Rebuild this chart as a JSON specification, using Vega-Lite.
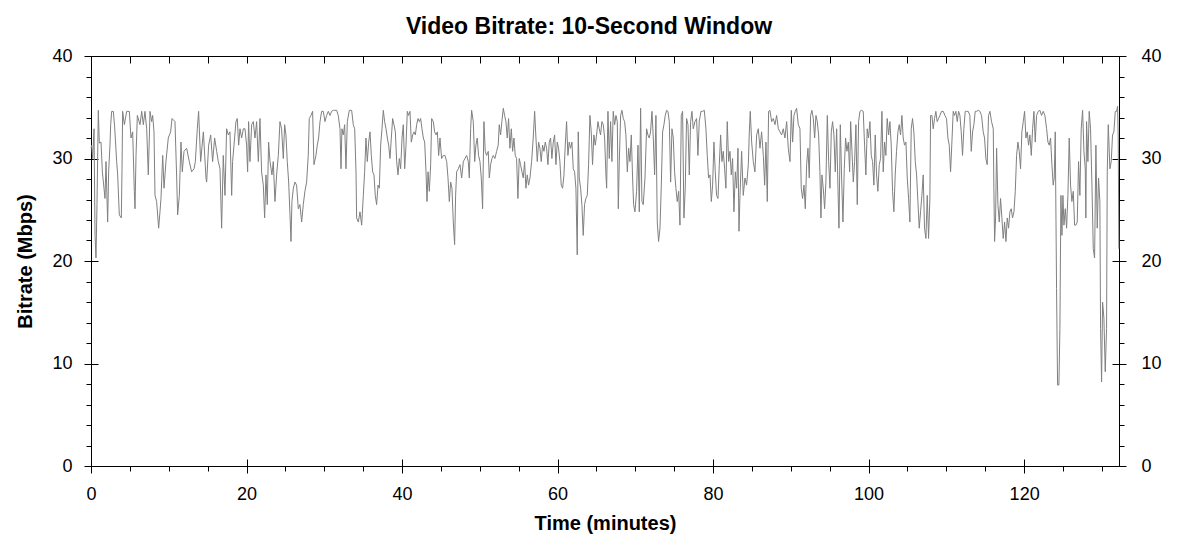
{
  "$schema": "https://vega.github.io/schema/vega-lite/v6.json",
  "autosize": "none",
  "width": 1028,
  "height": 410,
  "padding": {"left": 91, "top": 56, "right": 59, "bottom": 86},
  "background": "white",
  "title": {"text": "Video Bitrate: 10-Second Window", "dx": -16, "offset": 8},
  "config": {
    "view": {"stroke": null},
    "title": {"font": "Liberation Sans", "fontSize": 23, "fontWeight": "bold", "color": "black", "anchor": "middle"},
    "axis": {
      "grid": false,
      "domainColor": "black",
      "tickColor": "black",
      "labelColor": "black",
      "titleColor": "black",
      "labelFont": "Liberation Sans",
      "titleFont": "Liberation Sans",
      "labelFontSize": 18,
      "titleFontSize": 20,
      "titleFontWeight": "bold",
      "labelFlush": false,
      "labelOverlap": false,
      "domainWidth": 1,
      "tickWidth": 1
    }
  },
  "datasets": {
    "br": [
      {"t": 0, "v": 31.0}, {"t": 0.09, "v": 31.3}, {"t": 0.22, "v": 30.0}, {"t": 0.39, "v": 32.9}, {"t": 0.52, "v": 22.5},
      {"t": 0.64, "v": 20.3}, {"t": 0.77, "v": 25.5}, {"t": 0.94, "v": 34.7}, {"t": 1.07, "v": 31.5}, {"t": 1.29, "v": 31.6},
      {"t": 1.46, "v": 28.7}, {"t": 1.67, "v": 27.1}, {"t": 1.80, "v": 26.1}, {"t": 1.93, "v": 29.7}, {"t": 2.14, "v": 23.8},
      {"t": 2.27, "v": 28.7}, {"t": 2.44, "v": 31.3}, {"t": 2.53, "v": 33.3}, {"t": 2.66, "v": 34.6}, {"t": 2.87, "v": 34.6},
      {"t": 3.04, "v": 33.1}, {"t": 3.30, "v": 29.7}, {"t": 3.43, "v": 28.4}, {"t": 3.64, "v": 24.5}, {"t": 3.90, "v": 24.2},
      {"t": 3.99, "v": 29.0}, {"t": 4.07, "v": 34.6}, {"t": 4.29, "v": 33.3}, {"t": 4.59, "v": 34.6}, {"t": 4.93, "v": 34.6},
      {"t": 5.14, "v": 32.0}, {"t": 5.36, "v": 32.6}, {"t": 5.57, "v": 26.8}, {"t": 5.66, "v": 25.1}, {"t": 5.79, "v": 30.3},
      {"t": 5.96, "v": 34.2}, {"t": 6.30, "v": 33.3}, {"t": 6.52, "v": 34.6}, {"t": 6.73, "v": 33.3}, {"t": 6.94, "v": 34.6},
      {"t": 7.16, "v": 32.9}, {"t": 7.37, "v": 28.4}, {"t": 7.59, "v": 34.6}, {"t": 7.80, "v": 33.6}, {"t": 7.93, "v": 34.2},
      {"t": 8.10, "v": 32.6}, {"t": 8.23, "v": 26.4}, {"t": 8.44, "v": 25.8}, {"t": 8.70, "v": 23.2}, {"t": 8.87, "v": 24.8},
      {"t": 9.00, "v": 26.1}, {"t": 9.22, "v": 30.3}, {"t": 9.39, "v": 27.1}, {"t": 9.64, "v": 29.7}, {"t": 9.94, "v": 32.0},
      {"t": 10.24, "v": 32.6}, {"t": 10.42, "v": 33.9}, {"t": 10.80, "v": 33.6}, {"t": 11.02, "v": 28.1}, {"t": 11.14, "v": 24.5},
      {"t": 11.36, "v": 26.4}, {"t": 11.57, "v": 31.6}, {"t": 11.74, "v": 28.7}, {"t": 11.96, "v": 30.7}, {"t": 12.30, "v": 31.0},
      {"t": 12.64, "v": 29.7}, {"t": 12.94, "v": 28.7}, {"t": 13.25, "v": 29.0}, {"t": 13.42, "v": 29.7}, {"t": 13.67, "v": 32.9},
      {"t": 13.84, "v": 34.6}, {"t": 14.10, "v": 29.7}, {"t": 14.45, "v": 32.6}, {"t": 14.79, "v": 28.1}, {"t": 14.87, "v": 27.7},
      {"t": 15.13, "v": 31.3}, {"t": 15.39, "v": 32.3}, {"t": 15.64, "v": 29.7}, {"t": 15.90, "v": 32.0},
      {"t": 16.16, "v": 30.7}, {"t": 16.37, "v": 29.7}, {"t": 16.59, "v": 29.0}, {"t": 16.80, "v": 23.2}, {"t": 17.01, "v": 30.3},
      {"t": 17.23, "v": 26.4}, {"t": 17.44, "v": 32.9}, {"t": 17.66, "v": 32.3}, {"t": 17.87, "v": 32.6}, {"t": 18.09, "v": 26.4},
      {"t": 18.21, "v": 29.7}, {"t": 18.39, "v": 31.3}, {"t": 18.64, "v": 33.6}, {"t": 18.81, "v": 33.9}, {"t": 18.99, "v": 31.3},
      {"t": 19.16, "v": 32.9}, {"t": 19.37, "v": 32.0}, {"t": 19.59, "v": 32.9}, {"t": 19.80, "v": 32.9}, {"t": 20.01, "v": 31.3},
      {"t": 20.14, "v": 28.7}, {"t": 20.27, "v": 33.6}, {"t": 20.44, "v": 29.7}, {"t": 20.66, "v": 33.3}, {"t": 20.87, "v": 33.6},
      {"t": 21.09, "v": 32.0}, {"t": 21.30, "v": 33.6}, {"t": 21.52, "v": 29.7}, {"t": 21.73, "v": 33.9}, {"t": 21.94, "v": 28.7},
      {"t": 22.16, "v": 27.4}, {"t": 22.33, "v": 24.2}, {"t": 22.50, "v": 28.4}, {"t": 22.67, "v": 25.5}, {"t": 22.84, "v": 31.6},
      {"t": 23.02, "v": 29.7}, {"t": 23.27, "v": 28.4}, {"t": 23.44, "v": 29.7}, {"t": 23.66, "v": 25.8}, {"t": 23.87, "v": 28.4},
      {"t": 24.09, "v": 30.3}, {"t": 24.30, "v": 33.6}, {"t": 24.51, "v": 32.9}, {"t": 24.73, "v": 30.0}, {"t": 24.90, "v": 33.3},
      {"t": 25.07, "v": 32.3}, {"t": 25.24, "v": 29.7}, {"t": 25.42, "v": 27.7}, {"t": 25.59, "v": 24.5}, {"t": 25.72, "v": 21.9},
      {"t": 25.84, "v": 25.8}, {"t": 26.02, "v": 27.1}, {"t": 26.23, "v": 27.7}, {"t": 26.44, "v": 27.4}, {"t": 26.66, "v": 25.1},
      {"t": 26.87, "v": 25.5}, {"t": 27.09, "v": 23.8}, {"t": 27.30, "v": 25.5}, {"t": 27.51, "v": 26.8}, {"t": 27.73, "v": 27.7},
      {"t": 27.94, "v": 30.3}, {"t": 28.07, "v": 33.9}, {"t": 28.29, "v": 34.2}, {"t": 28.50, "v": 34.6}, {"t": 28.67, "v": 29.4},
      {"t": 28.93, "v": 30.3}, {"t": 29.10, "v": 31.3}, {"t": 29.27, "v": 32.0}, {"t": 29.45, "v": 33.6}, {"t": 29.66, "v": 34.6},
      {"t": 29.87, "v": 34.6}, {"t": 30.09, "v": 33.6}, {"t": 30.30, "v": 34.2}, {"t": 30.52, "v": 34.6}, {"t": 30.73, "v": 34.2},
      {"t": 30.94, "v": 34.6}, {"t": 31.16, "v": 34.7}, {"t": 31.37, "v": 34.7}, {"t": 31.59, "v": 34.7}, {"t": 31.80, "v": 34.2},
      {"t": 32.02, "v": 32.9}, {"t": 32.15, "v": 29.0}, {"t": 32.27, "v": 32.9}, {"t": 32.44, "v": 32.3}, {"t": 32.62, "v": 33.3},
      {"t": 32.79, "v": 29.0}, {"t": 32.96, "v": 33.6}, {"t": 33.22, "v": 34.7}, {"t": 33.52, "v": 34.7}, {"t": 33.73, "v": 33.3},
      {"t": 33.91, "v": 32.9}, {"t": 34.08, "v": 28.7}, {"t": 34.16, "v": 24.2}, {"t": 34.38, "v": 23.8}, {"t": 34.59, "v": 24.8},
      {"t": 34.81, "v": 23.5}, {"t": 35.02, "v": 26.4}, {"t": 35.19, "v": 28.7}, {"t": 35.36, "v": 32.0}, {"t": 35.53, "v": 29.7},
      {"t": 35.71, "v": 31.6}, {"t": 35.88, "v": 32.6}, {"t": 36.05, "v": 30.3}, {"t": 36.22, "v": 28.7}, {"t": 36.39, "v": 28.4},
      {"t": 36.56, "v": 26.4}, {"t": 36.73, "v": 25.5}, {"t": 36.91, "v": 27.4}, {"t": 37.08, "v": 27.1}, {"t": 37.25, "v": 31.3},
      {"t": 37.42, "v": 32.9}, {"t": 37.59, "v": 34.7}, {"t": 37.76, "v": 33.6}, {"t": 37.94, "v": 32.9}, {"t": 38.11, "v": 32.0},
      {"t": 38.28, "v": 31.3}, {"t": 38.45, "v": 30.0}, {"t": 38.62, "v": 32.0}, {"t": 38.79, "v": 33.9}, {"t": 38.96, "v": 33.3},
      {"t": 39.14, "v": 32.6}, {"t": 39.31, "v": 29.7}, {"t": 39.48, "v": 28.4}, {"t": 39.65, "v": 30.0}, {"t": 39.82, "v": 29.0},
      {"t": 40.00, "v": 32.0}, {"t": 40.16, "v": 33.3}, {"t": 40.34, "v": 29.0}, {"t": 40.51, "v": 31.3}, {"t": 40.68, "v": 34.6},
      {"t": 40.85, "v": 34.2}, {"t": 41.02, "v": 34.6}, {"t": 41.19, "v": 31.6}, {"t": 41.37, "v": 32.3}, {"t": 41.54, "v": 32.6},
      {"t": 41.71, "v": 32.3}, {"t": 41.88, "v": 33.3}, {"t": 42.05, "v": 33.9}, {"t": 42.22, "v": 33.6}, {"t": 42.39, "v": 33.9},
      {"t": 42.56, "v": 32.9}, {"t": 42.74, "v": 32.0}, {"t": 42.91, "v": 31.6}, {"t": 43.08, "v": 28.7}, {"t": 43.21, "v": 25.8},
      {"t": 43.34, "v": 28.7}, {"t": 43.51, "v": 26.8}, {"t": 43.68, "v": 29.4}, {"t": 43.81, "v": 33.9}, {"t": 44.02, "v": 33.6},
      {"t": 44.19, "v": 32.6}, {"t": 44.37, "v": 32.3}, {"t": 44.54, "v": 32.6}, {"t": 44.71, "v": 30.3}, {"t": 44.88, "v": 32.0},
      {"t": 45.09, "v": 30.0}, {"t": 45.31, "v": 30.3}, {"t": 45.52, "v": 30.3}, {"t": 45.74, "v": 29.7}, {"t": 45.91, "v": 28.1},
      {"t": 46.08, "v": 25.8}, {"t": 46.25, "v": 27.7}, {"t": 46.42, "v": 27.1}, {"t": 46.59, "v": 23.8}, {"t": 46.76, "v": 21.6},
      {"t": 46.89, "v": 26.4}, {"t": 47.02, "v": 28.7}, {"t": 47.24, "v": 29.0}, {"t": 47.45, "v": 29.4}, {"t": 47.67, "v": 28.1},
      {"t": 47.88, "v": 29.7}, {"t": 48.09, "v": 30.0}, {"t": 48.31, "v": 30.3}, {"t": 48.52, "v": 29.7}, {"t": 48.65, "v": 28.1},
      {"t": 48.82, "v": 32.9}, {"t": 48.95, "v": 34.7}, {"t": 49.16, "v": 33.6}, {"t": 49.34, "v": 29.7},
      {"t": 49.50, "v": 31.3}, {"t": 49.67, "v": 32.0}, {"t": 49.84, "v": 30.3}, {"t": 50.02, "v": 29.7}, {"t": 50.19, "v": 28.1},
      {"t": 50.36, "v": 25.1}, {"t": 50.53, "v": 33.6}, {"t": 50.70, "v": 30.7}, {"t": 50.87, "v": 30.3}, {"t": 51.09, "v": 30.7},
      {"t": 51.22, "v": 28.1}, {"t": 51.39, "v": 29.4}, {"t": 51.56, "v": 30.0}, {"t": 51.73, "v": 30.3}, {"t": 51.94, "v": 30.0},
      {"t": 52.16, "v": 30.7}, {"t": 52.37, "v": 31.3}, {"t": 52.50, "v": 33.3}, {"t": 52.67, "v": 32.3}, {"t": 52.84, "v": 33.6},
      {"t": 53.02, "v": 34.9}, {"t": 53.19, "v": 34.2}, {"t": 53.36, "v": 33.6}, {"t": 53.53, "v": 32.0}, {"t": 53.70, "v": 33.9},
      {"t": 53.87, "v": 31.0}, {"t": 54.05, "v": 32.9}, {"t": 54.22, "v": 30.7}, {"t": 54.39, "v": 32.0}, {"t": 54.56, "v": 30.3},
      {"t": 54.73, "v": 30.0}, {"t": 54.90, "v": 26.1}, {"t": 55.07, "v": 30.0}, {"t": 55.24, "v": 29.4}, {"t": 55.42, "v": 28.7},
      {"t": 55.59, "v": 28.1}, {"t": 55.76, "v": 29.7}, {"t": 55.93, "v": 27.1}, {"t": 56.10, "v": 28.4}, {"t": 56.27, "v": 27.4},
      {"t": 56.45, "v": 28.1}, {"t": 56.66, "v": 29.7}, {"t": 56.87, "v": 32.0}, {"t": 57.05, "v": 34.6}, {"t": 57.22, "v": 32.0},
      {"t": 57.39, "v": 29.7}, {"t": 57.56, "v": 31.6}, {"t": 57.73, "v": 31.0}, {"t": 57.90, "v": 29.7}, {"t": 58.07, "v": 31.3},
      {"t": 58.25, "v": 30.7}, {"t": 58.42, "v": 31.6}, {"t": 58.59, "v": 31.0}, {"t": 58.76, "v": 29.4}, {"t": 58.93, "v": 31.6},
      {"t": 59.10, "v": 32.0}, {"t": 59.27, "v": 30.0}, {"t": 59.45, "v": 31.6}, {"t": 59.62, "v": 32.3}, {"t": 59.79, "v": 29.4},
      {"t": 59.96, "v": 31.6}, {"t": 60.13, "v": 31.0}, {"t": 60.30, "v": 29.7}, {"t": 60.47, "v": 27.4}, {"t": 60.65, "v": 27.1},
      {"t": 60.82, "v": 28.4}, {"t": 60.99, "v": 31.3}, {"t": 61.16, "v": 33.6}, {"t": 61.33, "v": 30.3}, {"t": 61.50, "v": 31.6},
      {"t": 61.67, "v": 31.0}, {"t": 61.85, "v": 31.6}, {"t": 62.02, "v": 29.0}, {"t": 62.19, "v": 28.7}, {"t": 62.36, "v": 27.1},
      {"t": 62.53, "v": 20.6}, {"t": 62.66, "v": 32.6}, {"t": 62.79, "v": 28.1}, {"t": 62.96, "v": 27.1}, {"t": 63.13, "v": 25.5},
      {"t": 63.30, "v": 22.5}, {"t": 63.47, "v": 25.5}, {"t": 63.64, "v": 26.1}, {"t": 63.82, "v": 26.4}, {"t": 63.99, "v": 29.4},
      {"t": 64.16, "v": 34.2}, {"t": 64.33, "v": 32.6}, {"t": 64.50, "v": 29.4}, {"t": 64.67, "v": 32.3}, {"t": 64.85, "v": 31.3},
      {"t": 65.02, "v": 32.3}, {"t": 65.19, "v": 33.6}, {"t": 65.36, "v": 32.9}, {"t": 65.53, "v": 32.3}, {"t": 65.70, "v": 33.6},
      {"t": 65.88, "v": 33.3}, {"t": 66.05, "v": 32.0},
      {"t": 66.22, "v": 28.4}, {"t": 66.31, "v": 27.1}, {"t": 66.48, "v": 34.6}, {"t": 66.65, "v": 30.0}, {"t": 66.82, "v": 33.6},
      {"t": 66.99, "v": 29.7}, {"t": 67.16, "v": 34.6}, {"t": 67.34, "v": 33.3}, {"t": 67.51, "v": 34.2}, {"t": 67.68, "v": 33.6},
      {"t": 67.81, "v": 25.1}, {"t": 67.94, "v": 29.7}, {"t": 68.11, "v": 34.2}, {"t": 68.28, "v": 34.7}, {"t": 68.45, "v": 33.9},
      {"t": 68.62, "v": 33.6}, {"t": 68.79, "v": 32.3}, {"t": 68.97, "v": 28.7}, {"t": 69.14, "v": 31.0}, {"t": 69.31, "v": 29.7},
      {"t": 69.48, "v": 32.3}, {"t": 69.65, "v": 28.1}, {"t": 69.78, "v": 25.5}, {"t": 69.95, "v": 24.8}, {"t": 70.16, "v": 26.8},
      {"t": 70.34, "v": 31.3}, {"t": 70.51, "v": 24.8}, {"t": 70.68, "v": 34.9}, {"t": 70.85, "v": 25.8}, {"t": 71.02, "v": 25.5},
      {"t": 71.24, "v": 28.1}, {"t": 71.45, "v": 32.9}, {"t": 71.62, "v": 32.3}, {"t": 71.79, "v": 32.0}, {"t": 71.96, "v": 32.6},
      {"t": 72.14, "v": 34.6}, {"t": 72.31, "v": 32.0}, {"t": 72.48, "v": 28.4}, {"t": 72.65, "v": 34.2}, {"t": 72.82, "v": 23.8},
      {"t": 72.99, "v": 21.9}, {"t": 73.17, "v": 23.2}, {"t": 73.34, "v": 27.4}, {"t": 73.51, "v": 32.6}, {"t": 73.68, "v": 33.3},
      {"t": 73.85, "v": 34.2}, {"t": 74.02, "v": 34.7}, {"t": 74.19, "v": 34.6}, {"t": 74.37, "v": 33.6}, {"t": 74.54, "v": 27.7},
      {"t": 74.71, "v": 32.9}, {"t": 74.88, "v": 32.0}, {"t": 75.05, "v": 28.7}, {"t": 75.22, "v": 27.1}, {"t": 75.39, "v": 25.8},
      {"t": 75.57, "v": 26.8}, {"t": 75.74, "v": 23.5}, {"t": 75.91, "v": 34.2}, {"t": 76.08, "v": 34.6}, {"t": 76.25, "v": 24.2},
      {"t": 76.42, "v": 27.1}, {"t": 76.59, "v": 33.9}, {"t": 76.77, "v": 33.3}, {"t": 76.94, "v": 28.4}, {"t": 77.11, "v": 33.6},
      {"t": 77.28, "v": 34.6}, {"t": 77.45, "v": 32.9}, {"t": 77.67, "v": 33.6}, {"t": 77.88, "v": 33.9}, {"t": 78.05, "v": 30.3},
      {"t": 78.22, "v": 33.6}, {"t": 78.44, "v": 34.6}, {"t": 78.65, "v": 34.6}, {"t": 78.87, "v": 34.7}, {"t": 79.08, "v": 32.9},
      {"t": 79.25, "v": 30.3}, {"t": 79.42, "v": 28.1}, {"t": 79.60, "v": 28.4}, {"t": 79.77, "v": 25.8}, {"t": 79.94, "v": 27.4},
      {"t": 80.11, "v": 31.6}, {"t": 80.28, "v": 28.7}, {"t": 80.45, "v": 26.4}, {"t": 80.63, "v": 26.1}, {"t": 80.80, "v": 29.4},
      {"t": 80.97, "v": 32.3}, {"t": 81.14, "v": 29.7}, {"t": 81.31, "v": 30.7}, {"t": 81.48, "v": 29.0}, {"t": 81.65, "v": 27.1},
      {"t": 81.82, "v": 33.6}, {"t": 82.00, "v": 29.7}, {"t": 82.17, "v": 30.7}, {"t": 82.34, "v": 28.4}, {"t": 82.51, "v": 30.0},
      {"t": 82.68, "v": 24.8}, {"t": 82.86, "v": 28.7}, {"t": 83.03, "v": 27.1}, {"t": 83.20, "v": 31.0}, {"t": 83.33, "v": 22.9},
      {"t": 83.46, "v": 26.4}, {"t": 83.67, "v": 30.7}, {"t": 83.88, "v": 26.4}, {"t": 84.10, "v": 28.1}, {"t": 84.31, "v": 27.4},
      {"t": 84.53, "v": 29.4}, {"t": 84.66, "v": 32.6}, {"t": 84.78, "v": 34.6}, {"t": 84.96, "v": 31.6}, {"t": 85.17, "v": 29.7},
      {"t": 85.38, "v": 28.7}, {"t": 85.60, "v": 32.3}, {"t": 85.81, "v": 32.9}, {"t": 86.03, "v": 31.0}, {"t": 86.24, "v": 32.6},
      {"t": 86.46, "v": 30.3}, {"t": 86.63, "v": 27.4}, {"t": 86.80, "v": 31.6}, {"t": 86.97, "v": 25.8}, {"t": 87.14, "v": 34.6},
      {"t": 87.31, "v": 34.7}, {"t": 87.53, "v": 33.6}, {"t": 87.74, "v": 33.9}, {"t": 87.96, "v": 33.3}, {"t": 88.17, "v": 34.2},
      {"t": 88.39, "v": 32.9}, {"t": 88.60, "v": 32.6}, {"t": 88.81, "v": 32.3}, {"t": 89.03, "v": 32.9}, {"t": 89.24, "v": 32.0},
      {"t": 89.46, "v": 33.6}, {"t": 89.67, "v": 31.0}, {"t": 89.89, "v": 29.7}, {"t": 90.06, "v": 34.7}, {"t": 90.23, "v": 31.6},
      {"t": 90.40, "v": 34.2}, {"t": 90.57, "v": 34.6}, {"t": 90.74, "v": 34.9}, {"t": 90.96, "v": 33.3}, {"t": 91.17, "v": 32.9},
      {"t": 91.34, "v": 27.1}, {"t": 91.51, "v": 26.1}, {"t": 91.69, "v": 27.4}, {"t": 91.86, "v": 25.1}, {"t": 92.03, "v": 29.4},
      {"t": 92.20, "v": 31.0}, {"t": 92.37, "v": 28.1}, {"t": 92.54, "v": 34.2}, {"t": 92.71, "v": 34.7}, {"t": 92.89, "v": 33.9},
      {"t": 93.06, "v": 32.0}, {"t": 93.23, "v": 34.2}, {"t": 93.40, "v": 33.6}, {"t": 93.57, "v": 32.3}, {"t": 93.74, "v": 28.7},
      {"t": 93.87, "v": 24.2}, {"t": 94.00, "v": 28.4}, {"t": 94.17, "v": 27.1}, {"t": 94.34, "v": 25.1}, {"t": 94.51, "v": 27.7},
      {"t": 94.69, "v": 34.2}, {"t": 94.86, "v": 29.7}, {"t": 95.03, "v": 27.1}, {"t": 95.20, "v": 32.6}, {"t": 95.37, "v": 33.6},
      {"t": 95.54, "v": 32.3}, {"t": 95.71, "v": 28.7}, {"t": 95.89, "v": 32.9}, {"t": 96.06, "v": 27.1}, {"t": 96.19, "v": 23.2},
      {"t": 96.36, "v": 33.3}, {"t": 96.53, "v": 28.1}, {"t": 96.70, "v": 23.8}, {"t": 96.87, "v": 29.0}, {"t": 97.04, "v": 32.0},
      {"t": 97.21, "v": 30.7}, {"t": 97.39, "v": 31.6}, {"t": 97.56, "v": 28.7}, {"t": 97.69, "v": 33.6}, {"t": 97.86, "v": 30.7},
      {"t": 98.03, "v": 27.7}, {"t": 98.20, "v": 29.7}, {"t": 98.37, "v": 33.3}, {"t": 98.54, "v": 25.5}, {"t": 98.71, "v": 33.6},
      {"t": 98.89, "v": 34.6}, {"t": 99.10, "v": 34.7}, {"t": 99.31, "v": 34.6},
      {"t": 99.48, "v": 31.3}, {"t": 99.65, "v": 28.4}, {"t": 99.82, "v": 32.9}, {"t": 99.99, "v": 32.0}, {"t": 100.17, "v": 33.6},
      {"t": 100.34, "v": 30.3}, {"t": 100.51, "v": 29.7}, {"t": 100.68, "v": 27.4}, {"t": 100.85, "v": 32.3}, {"t": 101.02, "v": 28.4},
      {"t": 101.19, "v": 26.8}, {"t": 101.37, "v": 29.4}, {"t": 101.54, "v": 30.0}, {"t": 101.71, "v": 34.6}, {"t": 101.88, "v": 28.7},
      {"t": 102.05, "v": 31.6}, {"t": 102.22, "v": 30.3}, {"t": 102.39, "v": 33.9}, {"t": 102.57, "v": 32.3}, {"t": 102.74, "v": 33.6},
      {"t": 102.91, "v": 31.3}, {"t": 103.08, "v": 26.8}, {"t": 103.25, "v": 24.8}, {"t": 103.42, "v": 28.4}, {"t": 103.59, "v": 30.7},
      {"t": 103.77, "v": 32.6}, {"t": 103.94, "v": 33.3}, {"t": 104.11, "v": 32.3}, {"t": 104.28, "v": 34.2}, {"t": 104.45, "v": 32.0},
      {"t": 104.62, "v": 31.3}, {"t": 104.80, "v": 31.6}, {"t": 104.97, "v": 28.1}, {"t": 105.14, "v": 26.1}, {"t": 105.31, "v": 23.8},
      {"t": 105.48, "v": 32.9}, {"t": 105.65, "v": 33.9}, {"t": 105.82, "v": 32.6}, {"t": 106.00, "v": 29.7}, {"t": 106.17, "v": 28.4},
      {"t": 106.34, "v": 25.8}, {"t": 106.51, "v": 23.2}, {"t": 106.68, "v": 24.8}, {"t": 106.85, "v": 26.4}, {"t": 107.02, "v": 28.4},
      {"t": 107.19, "v": 23.2}, {"t": 107.37, "v": 22.2}, {"t": 107.54, "v": 26.4}, {"t": 107.71, "v": 22.2}, {"t": 107.88, "v": 26.1},
      {"t": 107.97, "v": 34.2}, {"t": 108.14, "v": 34.2}, {"t": 108.31, "v": 32.9}, {"t": 108.48, "v": 33.9}, {"t": 108.65, "v": 34.6},
      {"t": 108.82, "v": 33.6}, {"t": 108.99, "v": 33.9}, {"t": 109.17, "v": 34.2}, {"t": 109.38, "v": 34.6}, {"t": 109.60, "v": 34.6},
      {"t": 109.81, "v": 34.2}, {"t": 110.02, "v": 33.9}, {"t": 110.20, "v": 32.0}, {"t": 110.37, "v": 31.3}, {"t": 110.54, "v": 28.7},
      {"t": 110.71, "v": 31.6}, {"t": 110.88, "v": 34.6}, {"t": 111.05, "v": 34.2}, {"t": 111.22, "v": 34.6}, {"t": 111.40, "v": 33.6},
      {"t": 111.57, "v": 34.6}, {"t": 111.74, "v": 34.2}, {"t": 111.91, "v": 32.6}, {"t": 112.08, "v": 30.3}, {"t": 112.25, "v": 32.9},
      {"t": 112.42, "v": 34.6}, {"t": 112.60, "v": 34.6}, {"t": 112.81, "v": 34.6}, {"t": 113.02, "v": 34.2}, {"t": 113.20, "v": 30.7},
      {"t": 113.37, "v": 32.6}, {"t": 113.54, "v": 33.3}, {"t": 113.71, "v": 34.6}, {"t": 113.88, "v": 34.6}, {"t": 114.10, "v": 34.7},
      {"t": 114.31, "v": 34.6}, {"t": 114.52, "v": 34.2}, {"t": 114.74, "v": 32.6}, {"t": 114.91, "v": 32.0}, {"t": 115.08, "v": 30.0},
      {"t": 115.25, "v": 29.4}, {"t": 115.42, "v": 34.2},
      {"t": 115.60, "v": 34.6}, {"t": 115.81, "v": 33.6}, {"t": 116.03, "v": 32.9}, {"t": 116.11, "v": 27.1}, {"t": 116.20, "v": 21.9},
      {"t": 116.33, "v": 24.2}, {"t": 116.46, "v": 31.0}, {"t": 116.63, "v": 25.5}, {"t": 116.80, "v": 23.8}, {"t": 116.97, "v": 26.1},
      {"t": 117.14, "v": 24.2}, {"t": 117.31, "v": 22.2}, {"t": 117.49, "v": 23.8}, {"t": 117.66, "v": 21.9}, {"t": 117.83, "v": 24.2},
      {"t": 118.00, "v": 23.2}, {"t": 118.17, "v": 24.8}, {"t": 118.34, "v": 25.1}, {"t": 118.51, "v": 24.2}, {"t": 118.69, "v": 24.8},
      {"t": 118.86, "v": 26.8}, {"t": 119.03, "v": 30.3}, {"t": 119.20, "v": 31.6}, {"t": 119.37, "v": 30.7}, {"t": 119.54, "v": 29.0},
      {"t": 119.71, "v": 32.6}, {"t": 119.89, "v": 33.6}, {"t": 120.06, "v": 34.6}, {"t": 120.23, "v": 32.0}, {"t": 120.40, "v": 32.6},
      {"t": 120.57, "v": 31.3}, {"t": 120.74, "v": 32.3}, {"t": 120.92, "v": 30.3}, {"t": 121.09, "v": 32.9}, {"t": 121.26, "v": 34.6},
      {"t": 121.43, "v": 31.6}, {"t": 121.60, "v": 34.2}, {"t": 121.82, "v": 34.6}, {"t": 122.03, "v": 34.7}, {"t": 122.24, "v": 34.2},
      {"t": 122.46, "v": 34.6}, {"t": 122.67, "v": 34.2}, {"t": 122.89, "v": 32.9}, {"t": 123.06, "v": 31.6}, {"t": 123.23, "v": 31.3},
      {"t": 123.40, "v": 32.0}, {"t": 123.57, "v": 29.4}, {"t": 123.74, "v": 27.4}, {"t": 123.87, "v": 28.1}, {"t": 124.00, "v": 32.6},
      {"t": 124.17, "v": 17.3}, {"t": 124.30, "v": 7.9}, {"t": 124.47, "v": 7.9}, {"t": 124.60, "v": 13.4}, {"t": 124.73, "v": 26.4},
      {"t": 124.86, "v": 22.5}, {"t": 124.99, "v": 26.4}, {"t": 125.12, "v": 23.5}, {"t": 125.29, "v": 25.1}, {"t": 125.46, "v": 23.2},
      {"t": 125.63, "v": 26.4}, {"t": 125.80, "v": 32.0}, {"t": 125.97, "v": 27.4}, {"t": 126.14, "v": 25.8}, {"t": 126.32, "v": 26.8},
      {"t": 126.49, "v": 23.5}, {"t": 126.66, "v": 23.5}, {"t": 126.83, "v": 23.8}, {"t": 127.00, "v": 29.7}, {"t": 127.17, "v": 26.4},
      {"t": 127.34, "v": 32.9}, {"t": 127.52, "v": 34.7}, {"t": 127.69, "v": 30.7}, {"t": 127.86, "v": 29.0}, {"t": 127.94, "v": 24.2},
      {"t": 128.03, "v": 33.6}, {"t": 128.20, "v": 29.7}, {"t": 128.37, "v": 34.6}, {"t": 128.54, "v": 32.9}, {"t": 128.72, "v": 27.4},
      {"t": 128.89, "v": 21.2}, {"t": 129.06, "v": 20.3}, {"t": 129.23, "v": 31.3}, {"t": 129.40, "v": 23.2}, {"t": 129.57, "v": 28.1},
      {"t": 129.74, "v": 25.8}, {"t": 129.83, "v": 13.4}, {"t": 129.96, "v": 8.2}, {"t": 130.09, "v": 16.0}, {"t": 130.26, "v": 14.4},
      {"t": 130.43, "v": 9.2}, {"t": 130.60, "v": 13.4}, {"t": 130.69, "v": 28.7}, {"t": 130.82, "v": 33.3}, {"t": 131.03, "v": 29.0},
      {"t": 131.20, "v": 29.7}, {"t": 131.37, "v": 32.3}, {"t": 131.54, "v": 32.6}, {"t": 131.72, "v": 34.6}, {"t": 131.89, "v": 34.6},
      {"t": 132.02, "v": 35.1}, {"t": 132.10, "v": 32.0}, {"t": 132.18, "v": 21.2}
    ]
  },
  "data": {"name": "br"},
  "resolve": {"axis": {"x": "independent", "y": "independent"}},
  "layer": [
    {
      "mark": {"type": "line", "color": "#808080", "strokeWidth": 1, "interpolate": "linear"},
      "encoding": {
        "x": {"field": "t", "type": "quantitative", "scale": {"domain": [0, 132.2], "nice": false, "zero": false},
          "axis": {"orient": "bottom", "values": [0, 20, 40, 60, 80, 100, 120], "tickSize": 7, "labelPadding": 12, "title": "Time (minutes)", "titlePadding": 10}},
        "y": {"field": "v", "type": "quantitative", "scale": {"domain": [0, 40], "nice": false},
          "axis": {"orient": "left", "values": [0, 10, 20, 30, 40], "tickSize": 7, "labelPadding": 12, "title": "Bitrate (Mbps)", "titlePadding": 16}}
      }
    },
    {
      "mark": {"type": "line", "opacity": 0},
      "encoding": {
        "x": {"field": "t", "type": "quantitative",
          "axis": {"orient": "bottom", "values": [0, 5, 10, 15, 20, 25, 30, 35, 40, 45, 50, 55, 60, 65, 70, 75, 80, 85, 90, 95, 100, 105, 110, 115, 120, 125, 130], "tickSize": 5, "labels": false, "domain": false, "title": null}},
        "y": {"field": "v", "type": "quantitative",
          "axis": {"orient": "left", "values": [0, 2, 4, 6, 8, 10, 12, 14, 16, 18, 20, 22, 24, 26, 28, 30, 32, 34, 36, 38, 40], "tickSize": 5, "labels": false, "domain": false, "title": null}}
      }
    },
    {
      "mark": {"type": "line", "opacity": 0},
      "encoding": {
        "x": {"field": "t", "type": "quantitative",
          "axis": {"orient": "bottom", "values": [0, 20, 40, 60, 80, 100, 120], "tickSize": -7, "labels": false, "domain": false, "title": null}},
        "y": {"field": "v", "type": "quantitative",
          "axis": {"orient": "left", "values": [0, 10, 20, 30, 40], "tickSize": -7, "labels": false, "domain": false, "title": null}}
      }
    },
    {
      "mark": {"type": "line", "opacity": 0},
      "encoding": {
        "x": {"field": "t", "type": "quantitative",
          "axis": {"orient": "top", "values": [0, 5, 10, 15, 20, 25, 30, 35, 40, 45, 50, 55, 60, 65, 70, 75, 80, 85, 90, 95, 100, 105, 110, 115, 120, 125, 130], "tickSize": -7, "labels": false, "domain": true, "title": null}},
        "y": {"field": "v", "type": "quantitative",
          "axis": {"orient": "right", "values": [0, 10, 20, 30, 40], "tickSize": 7, "labelPadding": 15, "domain": true, "title": null}}
      }
    },
    {
      "mark": {"type": "line", "opacity": 0},
      "encoding": {
        "x": {"field": "t", "type": "quantitative", "axis": null},
        "y": {"field": "v", "type": "quantitative",
          "axis": {"orient": "right", "values": [0, 2, 4, 6, 8, 10, 12, 14, 16, 18, 20, 22, 24, 26, 28, 30, 32, 34, 36, 38, 40], "tickSize": 5, "labels": false, "domain": false, "title": null}}
      }
    },
    {
      "mark": {"type": "line", "opacity": 0},
      "encoding": {
        "x": {"field": "t", "type": "quantitative", "axis": null},
        "y": {"field": "v", "type": "quantitative",
          "axis": {"orient": "right", "values": [0, 10, 20, 30, 40], "tickSize": -7, "labels": false, "domain": false, "title": null}}
      }
    }
  ]
}
